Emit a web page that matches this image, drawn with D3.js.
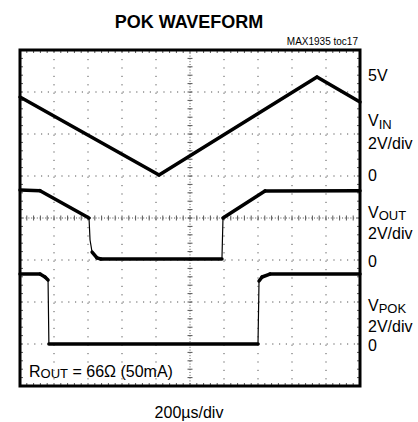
<!DOCTYPE html>
<html>
<head>
<meta charset="utf-8">
<style>
  body { margin: 0; background: #fff; font-family: "Liberation Sans", Arial, sans-serif; }
</style>
</head>
<body>
<svg id="chart" width="418" height="422"></svg>
<script src="https://cdn.jsdelivr.net/npm/d3@7"></script>
<script>
// time in µs, value in volts (2V/div on every channel)
const vinT  = [0, 818, 1747, 2000]
const vinV  = [3.76, 0.05, 4.71, 3.52]
const voutT = [0, 118, 406, 412, 424, 453, 475, 1188, 1194, 1441, 2000]
const voutV = [3.33, 3.3, 2.0, 0.95, 0.38, 0.1, 0.05, 0.05, 2.0, 3.29, 3.3]
const pokT  = [0, 118, 147, 165, 170, 1400, 1406, 1424, 1470, 2000]
const pokV  = [3.33, 3.33, 3.19, 3.05, 0, 0, 3.0, 3.19, 3.33, 3.33]

// zero line of each channel, in divisions from screen centre
const channels = [
  {t: vinT, v: vinV, zero: 1},
  {t: voutT, v: voutV, zero: -1},
  {t: pokT, v: pokV, zero: -3}
]
const voltsPerDiv = 2

let pLeft = 20, pRight = 360, pTop = 50, pBottom = 386
let svg = d3.select("#chart")

let x = d3.scaleLinear().domain([0, 2000]).range([pLeft, pRight])
let y = d3.scaleLinear().domain([-4, 4]).range([pBottom, pTop])

let xDiv = d3.range(0, 10.01, 1).map(d => x(d * 200))
let xMinor = d3.range(0, 50.01, 1).map(d => x(d * 40))
let yDiv = d3.range(-4, 4.01, 1).map(d => y(d))
let yMinor = d3.range(-20, 20.01, 1).map(d => y(d / 5))

let grid = svg.append("g").attr("stroke", "#555").attr("stroke-width", 1)

// dotted division lines
xDiv.slice(1, -1).forEach((px, i) => {
  if (i == 4) return
  grid.append("line")
    .attr("x1", px).attr("x2", px).attr("y1", pTop).attr("y2", pBottom)
    .attr("stroke-dasharray", "1.2," + (y(0) - y(0.2) - 1.2))
    .attr("stroke-dashoffset", -0.6)
})
yDiv.slice(1, -1).forEach((py, i) => {
  if (i == 3) return
  grid.append("line")
    .attr("y1", py).attr("y2", py).attr("x1", pLeft).attr("x2", pRight)
    .attr("stroke-dasharray", "1.2," + (x(40) - x(0) - 1.2))
    .attr("stroke-dashoffset", -0.6)
})

// centre axes: dense dots plus small ticks
let cx = x(1000), cy = y(0)
grid.append("line").attr("x1", cx).attr("x2", cx).attr("y1", pTop).attr("y2", pBottom)
  .attr("stroke-dasharray", "1,1.8")
grid.append("line").attr("y1", cy).attr("y2", cy).attr("x1", pLeft).attr("x2", pRight)
  .attr("stroke-dasharray", "1,1.8")
xMinor.forEach(px => {
  grid.append("line").attr("x1", px).attr("x2", px).attr("y1", cy - 2.5).attr("y2", cy + 2.5)
  grid.append("line").attr("x1", px).attr("x2", px).attr("y1", pTop).attr("y2", pTop + 3)
  grid.append("line").attr("x1", px).attr("x2", px).attr("y1", pBottom - 3).attr("y2", pBottom)
})
yMinor.forEach(py => {
  grid.append("line").attr("y1", py).attr("y2", py).attr("x1", cx - 2.5).attr("x2", cx + 2.5)
  grid.append("line").attr("y1", py).attr("y2", py).attr("x1", pLeft).attr("x2", pLeft + 3)
  grid.append("line").attr("y1", py).attr("y2", py).attr("x1", pRight - 3).attr("x2", pRight)
})

// traces
channels.forEach(ch => {
  let pts = ch.t.map((t, i) => [x(t), y(ch.v[i] / voltsPerDiv + ch.zero)])
  svg.append("path")
    .attr("d", d3.line()(pts))
    .attr("fill", "none").attr("stroke", "#000").attr("stroke-width", 1.2)
  for (let i = 0; i < pts.length - 1; i++) {
    let a = pts[i], b = pts[i + 1]
    if (Math.abs(b[1] - a[1]) > 5 * Math.abs(b[0] - a[0])) continue
    svg.append("line")
      .attr("x1", a[0]).attr("y1", a[1]).attr("x2", b[0]).attr("y2", b[1])
      .attr("stroke", "#000").attr("stroke-width", 3.5).attr("stroke-linecap", "round")
  }
})

// frame
svg.append("rect")
  .attr("x", pLeft).attr("y", pTop).attr("width", pRight - pLeft).attr("height", pBottom - pTop)
  .attr("fill", "none").attr("stroke", "#000").attr("stroke-width", 3)

// texts
svg.append("text").attr("x", 189).attr("y", 28).attr("text-anchor", "middle")
  .attr("font-size", 18).attr("font-weight", "bold").text("POK WAVEFORM")
svg.append("text").attr("x", 358).attr("y", 45).attr("text-anchor", "end")
  .attr("font-size", 10).text("MAX1935 toc17")
svg.append("text").attr("x", 189).attr("y", 418).attr("text-anchor", "middle")
  .attr("font-size", 16).text("200µs/div")

function label(px, py, main, sub, dy) {
  let t = svg.append("text").attr("x", px).attr("y", py).attr("font-size", 16)
  t.append("tspan").text(main)
  if (sub) {
    t.append("tspan").attr("font-size", 13).attr("dy", dy).text(sub)
  }
  return t
}
let lx = 368
label(lx, 81, "5V")
label(lx, 126, "V", "IN", 3)
label(lx, 149, "2V/div")
label(lx, 181, "0")
label(lx, 218, "V", "OUT", 2)
label(lx, 239, "2V/div")
label(lx, 267, "0")
label(lx, 311, "V", "POK", 2)
label(lx, 332, "2V/div")
label(lx, 351, "0")
label(29, 377, "R", "OUT", 1)
  .append("tspan").attr("dy", -1).text(" = 66Ω (50mA)")
</script>
</body>
</html>
